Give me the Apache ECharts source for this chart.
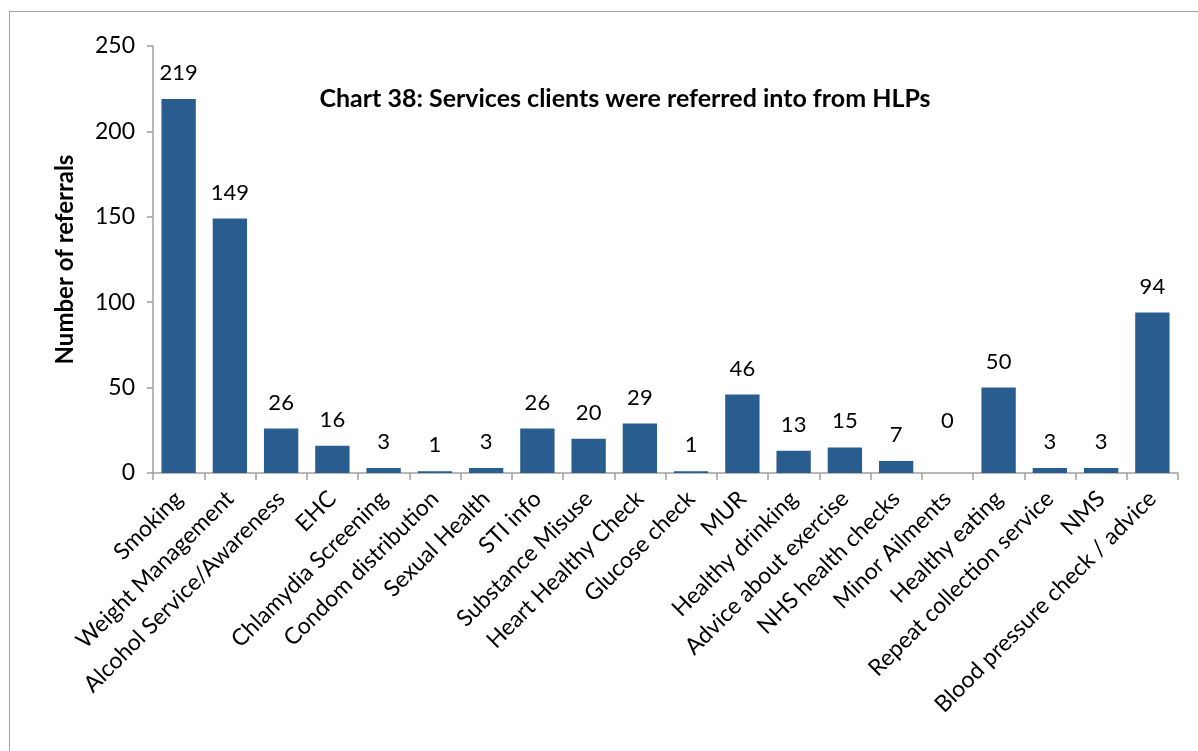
<!DOCTYPE html>
<html>
<head>
<meta charset="utf-8">
<script src="https://cdn.jsdelivr.net/npm/echarts@6/dist/echarts.min.js"></script>
<style>
  html, body { margin: 0; padding: 0; background: #fff; }
  #frame { position: absolute; left: 9px; top: 11px; width: 1200px; height: 760px; border: 1.5px solid #a0a0a0; box-sizing: border-box; }
  #chart { position: absolute; left: 0; top: 0; width: 1198px; height: 751px; }
</style>
</head>
<body>
<div id="frame"></div>
<div id="chart"></div>
<script>
const categories = [
  'Smoking', 'Weight Management', 'Alcohol Service/Awareness', 'EHC',
  'Chlamydia Screening', 'Condom distribution', 'Sexual Health', 'STI info',
  'Substance Misuse', 'Heart Healthy Check', 'Glucose check', 'MUR',
  'Healthy drinking', 'Advice about exercise', 'NHS health checks',
  'Minor Ailments', 'Healthy eating', 'Repeat collection service', 'NMS',
  'Blood pressure check / advice'
];
const referrals = [219, 149, 26, 16, 3, 1, 3, 26, 20, 29, 1, 46, 13, 15, 7, 0, 50, 3, 3, 94];
const titleText = 'Chart 38: Services clients were referred into from HLPs';
const yAxisTitle = 'Number of referrals';

const FONT = 'Lato, "Open Sans", sans-serif';

// A zero-height bar gets its value label lifted a little higher than the others
const barData = referrals.map(v => v === 0 ? { value: v, label: { offset: [0, -26] } } : v);

const chart = echarts.init(document.getElementById('chart'), null, { renderer: 'canvas' });
chart.setOption({
  animation: false,
  title: {
    text: titleText,
    left: 620, top: 81, textAlign: 'center',
    textStyle: { fontFamily: FONT, fontSize: 25, fontWeight: 'bold', color: '#000' }
  },
  grid: { left: 153, right: 20, top: 46, bottom: 278, containLabel: false },
  xAxis: {
    type: 'category',
    data: categories,
    axisLine: { lineStyle: { color: '#a0a0a0', width: 1.5 } },
    axisTick: { show: true, alignWithLabel: false, length: 7, lineStyle: { color: '#a0a0a0', width: 1.5 } },
    axisLabel: {
      interval: 0, rotate: 45, margin: 22,
      fontFamily: FONT, fontSize: 23, color: '#000'
    }
  },
  yAxis: {
    type: 'value',
    min: 0, max: 250, interval: 50,
    name: yAxisTitle,
    nameLocation: 'middle',
    nameGap: 76,
    nameTextStyle: { fontFamily: FONT, fontSize: 24, fontWeight: 'bold', color: '#000' },
    axisLine: { show: true, lineStyle: { color: '#a0a0a0', width: 1.5 } },
    axisTick: { show: true, length: 6, lineStyle: { color: '#a0a0a0', width: 1.5 } },
    splitLine: { show: false },
    axisLabel: { fontFamily: FONT, fontSize: 23, color: '#000', margin: 18 }
  },
  series: [{
    type: 'bar',
    data: barData,
    barCategoryGap: '33%',
    itemStyle: { color: '#2a5d8f', borderWidth: 0 },
    label: {
      show: true, position: 'top', distance: 15,
      fontFamily: FONT, fontSize: 22, color: '#000'
    }
  }]
});
</script>
</body>
</html>
